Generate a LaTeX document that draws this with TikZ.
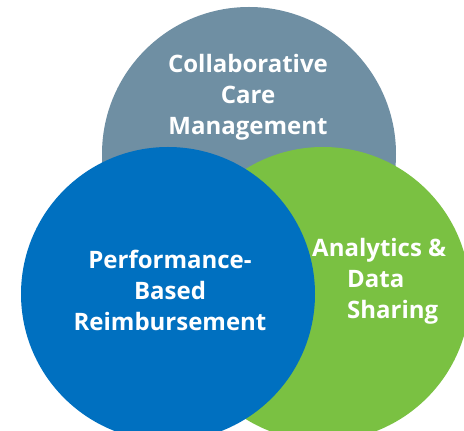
\documentclass[tikz,border=0pt]{standalone}
\usepackage{fontspec}
\setmainfont{Open Sans}
\definecolor{careGray}{RGB}{111,143,163}
\definecolor{payBlue}{RGB}{0,112,192}
\definecolor{dataGreen}{RGB}{122,193,66}

\begin{document}
\begin{tikzpicture}[x=1pt,y=1pt,
  label/.style={text=white,font=\bfseries\fontsize{24}{31}\selectfont,inner sep=0pt}]
  \useasboundingbox (0,0) rectangle (464,431);
  \clip (0,0) rectangle (464,431);
  \fill[careGray] (249,277) circle (147);
  \fill[dataGreen] (323,137) circle (147);
  \fill[payBlue] (168,137) circle (147);
  \node[label,align=center] (care) at (248,334) {Collaborative\\Care\\Management};
  \node[label,align=center] (pay) at (170,141) {Performance-\\Based\\Reimbursement};
  \node[label,align=left,anchor=west] (data) at (312,150) {Analytics \&\\\hspace{35pt}Data\\\hspace{35pt}Sharing};
\end{tikzpicture}
\end{document}
